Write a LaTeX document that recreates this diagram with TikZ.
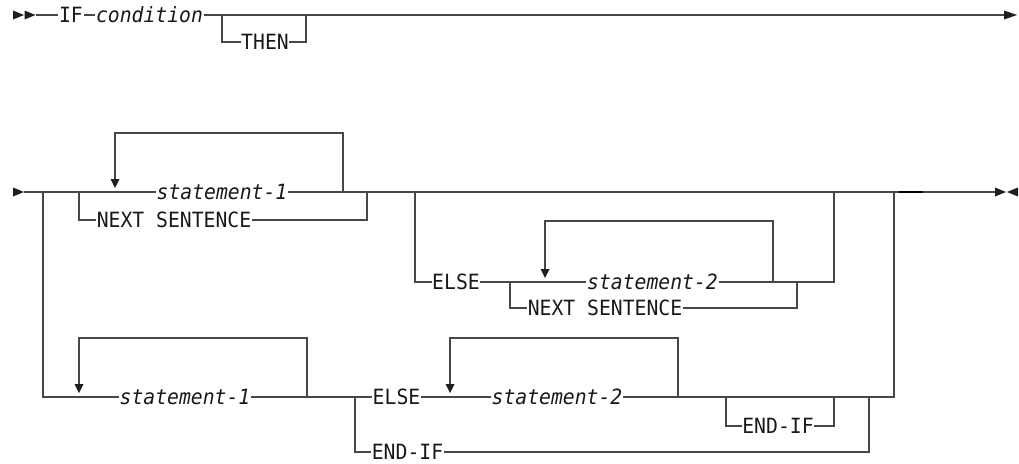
\documentclass[tikz,border=0pt]{standalone}
\usepackage{fontspec}
\newfontfamily\rrfont[FakeStretch=0.94]{DejaVu Sans Mono}
\begin{document}
\begin{tikzpicture}[x=1pt,y=-1pt,
  rail/.style={draw=black!72, line width=1.2pt},
  lbl/.style={font=\rrfont\fontsize{21}{25}\selectfont, text=black!90, inner xsep=0.5pt, inner ysep=0pt, text height=15pt, text depth=0pt},
  ital/.style={lbl, font=\rrfont\fontsize{21}{25}\selectfont\itshape},
  tipfill/.style={fill=black!88},
]
\useasboundingbox (0,0) rectangle (1019,463);

% ---------- row 1 ----------
\node[lbl]  (if)   at (71,15)    {IF};
\node[ital] (cond) at (149.5,15) {condition};
\node[lbl]  (then) at (265,42)   {THEN};
\coordinate (s1) at (36,15);
\coordinate (e1) at (1004,15);
\coordinate (tb) at (222,15);
\coordinate (te) at (306,15);
\fill[tipfill] (13,10.5) -- (24,15) -- (13,19.5) -- cycle;
\fill[tipfill] (24.5,10.5) -- (35.5,15) -- (24.5,19.5) -- cycle;
\draw[rail] (s1) -- (if.west);
\draw[rail] (if.east) -- (cond.west);
\draw[rail] (cond.east) -- (e1);
\fill[tipfill] (1004,10.5) -- (1017,15) -- (1004,19.5) -- cycle;
\draw[rail] (tb) |- (then.west);
\draw[rail] (then.east) -| (te);

% ---------- row 2 : nodes ----------
\node[ital] (st1)   at (222,192)   {statement-1};
\node[lbl]  (ns1)   at (174,220)   {NEXT SENTENCE};
\node[lbl]  (else1) at (456,282)   {ELSE};
\node[ital] (st2)   at (652.5,282) {statement-2};
\node[lbl]  (ns2)   at (605,308)   {NEXT SENTENCE};
\node[ital] (st1b)  at (185,397)   {statement-1};
\node[lbl]  (else2) at (396.5,397) {ELSE};
\node[ital] (st2b)  at (557,397)   {statement-2};
\node[lbl]  (endif1) at (778,426)  {END-IF};
\node[lbl]  (endif2) at (407.5,452) {END-IF};

% ---------- row 2 : coordinates ----------
\coordinate (s2) at (24,192);
\coordinate (a)  at (43,192);
\coordinate (b)  at (79,192);
\coordinate (c)  at (367,192);
\coordinate (d)  at (415,192);
\coordinate (f)  at (834,192);
\coordinate (g)  at (894,192);
\coordinate (e2) at (995,192);
\coordinate (h)  at (510,282);
\coordinate (k)  at (797,282);
\coordinate (fb) at (834,282);
\coordinate (abot) at (43,397);
\coordinate (m)  at (355,397);
\coordinate (n)  at (726,397);
\coordinate (p)  at (834,397);
\coordinate (q)  at (869,397);
\coordinate (gb) at (894,397);

% start / end markers
\fill[tipfill] (13,187.5) -- (24,192) -- (13,196.5) -- cycle;
\fill[tipfill] (995,187.5) -- (1006,192) -- (995,196.5) -- cycle;
\fill[tipfill] (1018,187.5) -- (1007,192) -- (1018,196.5) -- cycle;

% main line
\draw[rail] (s2) -- (st1.west);
\draw[rail] (st1.east) -- (e2);
\draw[black, line width=1.6pt] (899,192) -- (923,192);

% loop over statement-1 (top)
\draw[rail] (343,192) -- (343,133) -- (115,133) -- (115,179);
\fill[tipfill] (110.5,179) -- (119.5,179) -- (115,188) -- cycle;

% NEXT SENTENCE (top)
\draw[rail] (b) |- (ns1.west);
\draw[rail] (ns1.east) -| (c);

% ELSE branch (top)
\draw[rail] (d) |- (else1.west);
\draw[rail] (else1.east) -- (st2.west);
\draw[rail] (st2.east) -- (fb) -- (f);
\draw[rail] (773,282) -- (773,221) -- (545,221) -- (545,269);
\fill[tipfill] (540.5,269) -- (549.5,269) -- (545,278) -- cycle;
\draw[rail] (h) |- (ns2.west);
\draw[rail] (ns2.east) -| (k);

% second alternative
\draw[rail] (a) -- (abot) -- (st1b.west);
\draw[rail] (st1b.east) -- (else2.west);
\draw[rail] (307,397) -- (307,338) -- (79,338) -- (79,384);
\fill[tipfill] (74.5,384) -- (83.5,384) -- (79,393) -- cycle;
\draw[rail] (else2.east) -- (st2b.west);
\draw[rail] (st2b.east) -- (gb) -- (g);
\draw[rail] (678,397) -- (678,338) -- (450,338) -- (450,384);
\fill[tipfill] (445.5,384) -- (454.5,384) -- (450,393) -- cycle;
\draw[rail] (n) |- (endif1.west);
\draw[rail] (endif1.east) -| (p);
\draw[rail] (m) |- (endif2.west);
\draw[rail] (endif2.east) -| (q);
\end{tikzpicture}
\end{document}
